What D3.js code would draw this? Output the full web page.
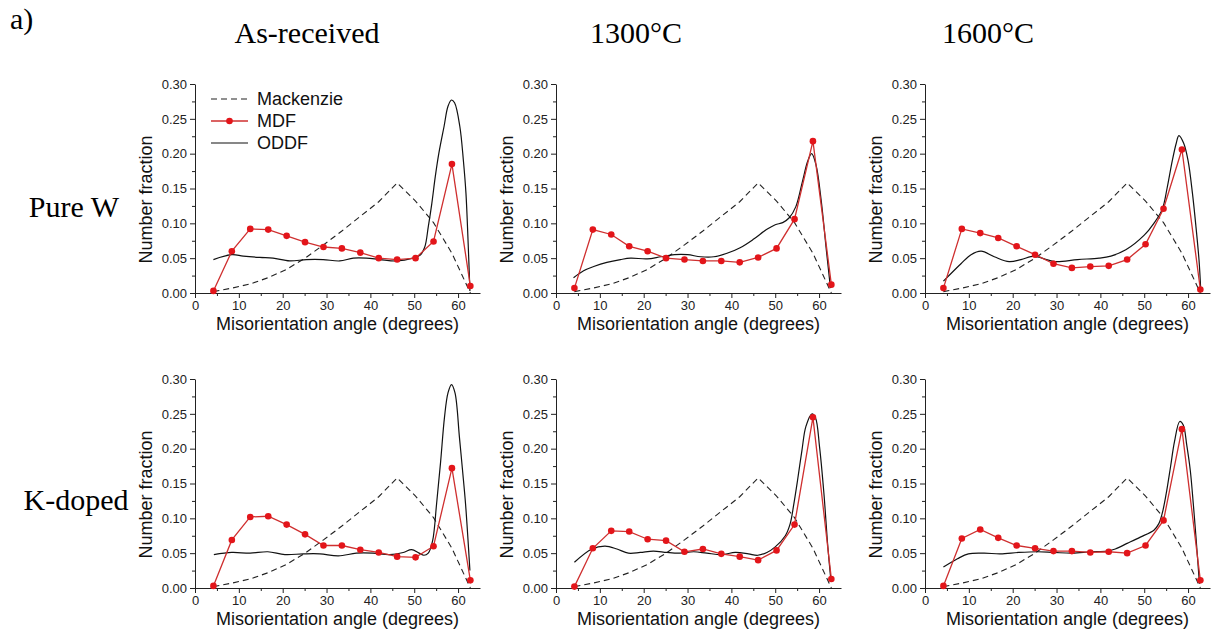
<!DOCTYPE html>
<html>
<head>
<meta charset="utf-8">
<script src="https://cdn.jsdelivr.net/npm/d3@7"></script>
<style>
  html, body { margin: 0; padding: 0; background: #fff; }
  svg { display: block; }
</style>
</head>
<body>
<svg id="fig" width="1213" height="637"></svg>
<script>
// Misorientation angle distributions: Mackenzie reference, measured MDF and ODDF
const columnTitles = ["As-received", "1300°C", "1600°C"];
const rowTitles = ["Pure W", "K-doped"];

const xTicks = [0, 10, 20, 30, 40, 50, 60];
const yTicks = [0, 0.05, 0.10, 0.15, 0.20, 0.25, 0.30];

// bin positions shared by the MDF and the Mackenzie curve (degrees)
const binAngles = [4.2, 8.4, 12.6, 16.7, 20.9, 25.1, 29.3, 33.5, 37.7, 41.9, 46.1, 50.3, 54.4, 58.6, 62.8];
const mackenzie = [0.002, 0.007, 0.013, 0.022, 0.034, 0.050, 0.069, 0.089, 0.110, 0.131, 0.158, 0.132, 0.101, 0.057, 0.000];

// MDF, pure W
const mdfPureAsReceived = [0.003, 0.060, 0.092, 0.091, 0.082, 0.073, 0.066, 0.064, 0.058, 0.050, 0.048, 0.050, 0.074, 0.185, 0.010];
const mdfPure1300 = [0.007, 0.091, 0.084, 0.067, 0.060, 0.050, 0.048, 0.046, 0.046, 0.044, 0.051, 0.064, 0.106, 0.218, 0.012];
const mdfPure1600 = [0.007, 0.092, 0.086, 0.079, 0.067, 0.055, 0.042, 0.036, 0.038, 0.039, 0.048, 0.070, 0.121, 0.206, 0.005];
// MDF, K-doped W
const mdfKAsReceived = [0.003, 0.069, 0.102, 0.103, 0.091, 0.077, 0.061, 0.061, 0.055, 0.051, 0.045, 0.044, 0.060, 0.172, 0.011];
const mdfK1300 = [0.002, 0.057, 0.082, 0.081, 0.070, 0.068, 0.052, 0.056, 0.049, 0.045, 0.040, 0.054, 0.091, 0.245, 0.013];
const mdfK1600 = [0.003, 0.071, 0.084, 0.072, 0.061, 0.057, 0.053, 0.053, 0.051, 0.052, 0.050, 0.061, 0.097, 0.228, 0.011];

// ODDF curves (angle, number fraction)
const oddfAnglesPureAsReceived = [4.2, 8.4, 11.0, 14.8, 17.8, 21.6, 25.4, 29.2, 33.0, 36.1, 39.1, 42.2, 46.0, 49.7, 51.3, 52.4, 53.2, 54.0, 54.8, 55.6, 56.8, 57.7, 58.5, 59.2, 60.4, 61.2, 61.8, 62.3, 62.7];
const oddfPureAsReceived = [0.048, 0.055, 0.053, 0.051, 0.050, 0.046, 0.048, 0.048, 0.046, 0.050, 0.050, 0.048, 0.046, 0.050, 0.054, 0.066, 0.095, 0.128, 0.167, 0.200, 0.239, 0.268, 0.277, 0.273, 0.239, 0.191, 0.143, 0.071, 0.003];

const oddfAnglesPure1300 = [4.0, 6.3, 8.6, 11.6, 14.7, 17.0, 20.8, 23.9, 27.0, 30.0, 33.0, 36.0, 39.0, 42.0, 45.0, 48.0, 50.0, 51.7, 53.2, 54.7, 56.2, 57.4, 58.3, 59.3, 60.5, 61.6, 62.6];
const oddfPure1300 = [0.022, 0.032, 0.038, 0.044, 0.048, 0.050, 0.049, 0.052, 0.055, 0.055, 0.052, 0.052, 0.057, 0.065, 0.077, 0.091, 0.098, 0.101, 0.108, 0.124, 0.160, 0.189, 0.200, 0.184, 0.132, 0.065, 0.007];

const oddfAnglesPure1600 = [4.2, 8.2, 10.5, 12.8, 15.8, 19.2, 21.9, 24.9, 27.2, 29.8, 34.8, 39.7, 42.4, 45.8, 50.0, 52.2, 54.1, 55.2, 56.4, 57.3, 57.9, 59.0, 60.0, 61.0, 61.8, 62.5, 62.9];
const oddfPure1600 = [0.017, 0.042, 0.055, 0.060, 0.052, 0.045, 0.048, 0.053, 0.049, 0.045, 0.048, 0.050, 0.053, 0.062, 0.083, 0.100, 0.120, 0.150, 0.190, 0.215, 0.226, 0.215, 0.190, 0.143, 0.095, 0.047, 0.003];

const oddfAnglesKAsReceived = [4.3, 8.4, 12.6, 16.6, 20.5, 24.7, 28.5, 32.7, 36.8, 40.6, 44.4, 47.5, 49.4, 51.1, 52.2, 53.2, 54.2, 55.1, 56.0, 56.9, 57.7, 58.5, 59.3, 60.3, 61.0, 61.7, 62.7];
const oddfKAsReceived = [0.048, 0.051, 0.050, 0.052, 0.048, 0.049, 0.049, 0.046, 0.050, 0.050, 0.048, 0.051, 0.055, 0.050, 0.047, 0.050, 0.068, 0.121, 0.180, 0.245, 0.280, 0.292, 0.280, 0.217, 0.170, 0.121, 0.025];

const oddfAnglesK1300 = [4.2, 8.2, 11.2, 13.9, 16.5, 19.2, 22.2, 25.3, 28.2, 31.4, 34.4, 37.8, 40.9, 43.9, 46.0, 48.1, 50.0, 52.3, 53.4, 54.2, 55.1, 56.1, 57.0, 58.4, 59.2, 60.1, 61.1, 62.0, 62.7];
const oddfK1300 = [0.037, 0.056, 0.060, 0.056, 0.050, 0.051, 0.053, 0.051, 0.050, 0.052, 0.050, 0.048, 0.051, 0.049, 0.047, 0.051, 0.059, 0.075, 0.092, 0.119, 0.155, 0.198, 0.232, 0.250, 0.244, 0.203, 0.136, 0.059, 0.011];

const oddfAnglesK1600 = [4.2, 7.4, 9.9, 13.5, 17.2, 21.4, 25.6, 29.4, 33.6, 37.8, 41.5, 43.4, 46.1, 49.1, 52.2, 53.3, 54.1, 55.0, 56.0, 56.9, 58.1, 58.9, 59.7, 60.5, 61.2, 61.8, 62.6];
const oddfK1600 = [0.030, 0.042, 0.049, 0.050, 0.049, 0.051, 0.052, 0.051, 0.050, 0.052, 0.053, 0.056, 0.064, 0.073, 0.083, 0.092, 0.107, 0.135, 0.174, 0.210, 0.239, 0.234, 0.205, 0.169, 0.120, 0.073, 0.006];

const mdfGrid = [
  [mdfPureAsReceived, mdfPure1300, mdfPure1600],
  [mdfKAsReceived, mdfK1300, mdfK1600]
];
const oddfGrid = [
  [[oddfAnglesPureAsReceived, oddfPureAsReceived], [oddfAnglesPure1300, oddfPure1300], [oddfAnglesPure1600, oddfPure1600]],
  [[oddfAnglesKAsReceived, oddfKAsReceived], [oddfAnglesK1300, oddfK1300], [oddfAnglesK1600, oddfK1600]]
];

// layout
const sansFont = "'Liberation Sans', Arial, sans-serif";
const serifFont = "'Liberation Serif', 'Times New Roman', serif";
const axisLeftX = [195, 556, 925];
const plotTop = [84, 379];
const plotW = 285, plotH = 209;
const red = "#cf2f2f", dotRed = "#e3151a", ink = "#111";

const svg = d3.select("#fig");
svg.append("rect").attr("width", 1213).attr("height", 637).attr("fill", "#fff");

svg.append("text").text("a)")
  .attr("x", 10).attr("y", 29)
  .attr("font-family", serifFont).attr("font-size", 30).attr("fill", "#000");

const colTitleX = [307, 636, 988];
columnTitles.forEach((t, i) => {
  svg.append("text").text(t)
    .attr("x", colTitleX[i]).attr("y", 43)
    .attr("text-anchor", "middle")
    .attr("font-family", serifFont).attr("font-size", 30).attr("fill", "#000");
});

const rowTitleX = [74, 76];
const rowTitleY = [217, 510];
rowTitles.forEach((t, i) => {
  svg.append("text").text(t)
    .attr("x", rowTitleX[i]).attr("y", rowTitleY[i])
    .attr("text-anchor", "middle")
    .attr("font-family", serifFont).attr("font-size", 30).attr("fill", "#000");
});

function styleAxis(g) {
  g.selectAll("path, line").attr("stroke", "#222").attr("stroke-width", 1);
  g.selectAll("text").attr("font-family", sansFont).attr("font-size", 13).attr("fill", "#222");
}

function drawPanel(r, c) {
  const x0 = axisLeftX[c], top = plotTop[r];
  const x = d3.scaleLinear().domain([0, 65]).range([x0, x0 + plotW]);
  const y = d3.scaleLinear().domain([0, 0.30]).range([top + plotH, top]);
  const g = svg.append("g");

  // axes with minor ticks
  const xMinor = g.append("g").attr("transform", `translate(0,${top + plotH})`)
    .call(d3.axisBottom(x).tickValues(d3.range(5, 65, 10)).tickSize(3).tickFormat(""));
  xMinor.select(".domain").remove();
  styleAxis(xMinor);
  const xAxis = g.append("g").attr("transform", `translate(0,${top + plotH})`)
    .call(d3.axisBottom(x).tickValues(xTicks).tickSize(5).tickSizeOuter(0).tickPadding(3).tickFormat(d3.format("d")));
  styleAxis(xAxis);

  const yMinor = g.append("g").attr("transform", `translate(${x0},0)`)
    .call(d3.axisLeft(y).tickValues(d3.range(0.025, 0.3, 0.05)).tickSize(3).tickFormat(""));
  yMinor.select(".domain").remove();
  styleAxis(yMinor);
  const yAxis = g.append("g").attr("transform", `translate(${x0},0)`)
    .call(d3.axisLeft(y).tickValues(yTicks).tickSize(5).tickSizeOuter(0).tickPadding(3).tickFormat(d3.format(".2f")));
  styleAxis(yAxis);

  g.append("text").text("Misorientation angle (degrees)")
    .attr("x", x0 + plotW / 2).attr("y", top + plotH + 37)
    .attr("text-anchor", "middle")
    .attr("font-family", sansFont).attr("font-size", 18).attr("fill", "#111");
  g.append("text").text("Number fraction")
    .attr("transform", `translate(${x0 - 49},${top + plotH / 2 + 11}) rotate(-90)`)
    .attr("text-anchor", "middle").attr("dominant-baseline", "central")
    .attr("font-family", sansFont).attr("font-size", 18).attr("fill", "#111");

  // Mackenzie
  const mk = binAngles.map((a, i) => [a, mackenzie[i]]);
  g.append("path")
    .attr("d", d3.line().x(d => x(d[0])).y(d => y(d[1]))(mk))
    .attr("fill", "none").attr("stroke", "#222").attr("stroke-width", 1.1)
    .attr("stroke-dasharray", "6,4");

  // ODDF
  const [oa, ov] = oddfGrid[r][c];
  const od = oa.map((a, i) => [a, ov[i]]);
  g.append("path")
    .attr("d", d3.line().curve(d3.curveCatmullRom.alpha(0.5)).x(d => x(d[0])).y(d => y(d[1]))(od))
    .attr("fill", "none").attr("stroke", ink).attr("stroke-width", 1.2);

  // MDF
  const md = binAngles.map((a, i) => [a, mdfGrid[r][c][i]]);
  g.append("path")
    .attr("d", d3.line().x(d => x(d[0])).y(d => y(d[1]))(md))
    .attr("fill", "none").attr("stroke", red).attr("stroke-width", 1.3);
  g.selectAll("circle.mdf").data(md).join("circle")
    .attr("class", "mdf")
    .attr("cx", d => x(d[0])).attr("cy", d => y(d[1])).attr("r", 3.3)
    .attr("fill", dotRed);

  // legend in the first panel
  if (r === 0 && c === 0) {
    const lx0 = x0 + 16, lx1 = x0 + 53, tx = x0 + 62;
    const rows = [top + 15, top + 37, top + 59];
    const lg = g.append("g");
    lg.append("line").attr("x1", lx0).attr("x2", lx1).attr("y1", rows[0]).attr("y2", rows[0])
      .attr("stroke", "#222").attr("stroke-width", 1.1).attr("stroke-dasharray", "6,4");
    lg.append("line").attr("x1", lx0).attr("x2", lx1).attr("y1", rows[1]).attr("y2", rows[1])
      .attr("stroke", red).attr("stroke-width", 1.3);
    lg.append("circle").attr("cx", (lx0 + lx1) / 2).attr("cy", rows[1]).attr("r", 3.3).attr("fill", dotRed);
    lg.append("line").attr("x1", lx0).attr("x2", lx1).attr("y1", rows[2]).attr("y2", rows[2])
      .attr("stroke", ink).attr("stroke-width", 1.2);
    ["Mackenzie", "MDF", "ODDF"].forEach((t, i) => {
      lg.append("text").text(t).attr("x", tx).attr("y", rows[i])
        .attr("dominant-baseline", "central")
        .attr("font-family", sansFont).attr("font-size", 18).attr("fill", "#111");
    });
  }
}

for (let r = 0; r < 2; r++) {
  for (let c = 0; c < 3; c++) drawPanel(r, c);
}
</script>
</body>
</html>
